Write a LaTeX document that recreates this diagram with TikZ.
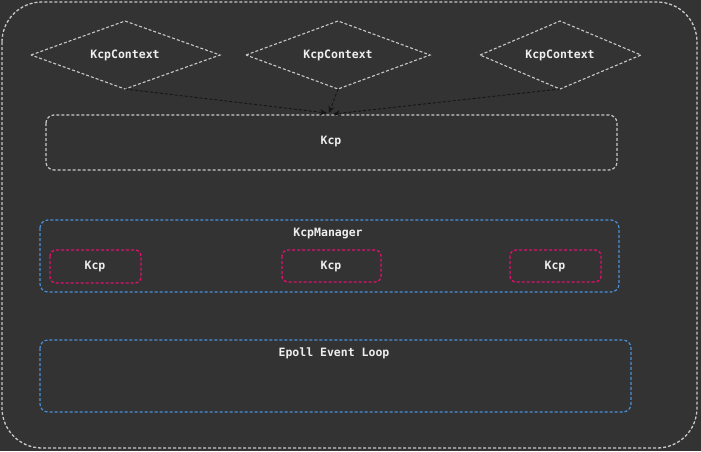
\documentclass[tikz,border=0pt]{standalone}
\usepackage{fontspec}
\setmonofont{DejaVu Sans Mono}
\usetikzlibrary{arrows.meta}
\definecolor{bg}{HTML}{333333}
\definecolor{gline}{HTML}{C8C8C8}
\definecolor{bline}{HTML}{4A90D9}
\definecolor{pline}{HTML}{E0106F}
\definecolor{txt}{HTML}{EEEEEE}
\definecolor{arr}{HTML}{151515}
\tikzset{
  lbl/.style={text=txt,font=\ttfamily\bfseries\fontsize{11.5}{13}\selectfont,inner sep=0pt},
  gbox/.style={draw=gline,line width=1.2pt,rounded corners=8pt,dash pattern=on 3pt off 2pt},
  bbox/.style={draw=bline,line width=1.2pt,rounded corners=8pt,dash pattern=on 3pt off 2pt},
  pbox/.style={draw=pline,line width=1.3pt,rounded corners=6pt,dash pattern=on 3pt off 2pt},
  dline/.style={draw=gline,line width=1.1pt,dash pattern=on 3pt off 2pt},
  conn/.style={draw=arr,line width=0.9pt,dash pattern=on 3pt off 2pt,-{Stealth[length=7pt,width=6pt]}},
}
\begin{document}
\begin{tikzpicture}[x=1pt,y=-1pt]
\useasboundingbox (0,0) rectangle (701,451);
\fill[bg] (0,0) rectangle (701,451);
\draw[draw=gline,line width=1.3pt,dash pattern=on 3pt off 2pt,rounded corners=40pt] (2,2) rectangle (697,448);
% diamonds
\path[dline] (31,55) -- (125,21) -- (220,55) -- (125,89) -- cycle;
\path[dline] (246,55) -- (338,21) -- (430,55) -- (338,89) -- cycle;
\path[dline] (480,55) -- (560,21) -- (641,55) -- (560,89) -- cycle;
\node[lbl] (c1) at (125,55) {KcpContext};
\node[lbl] (c2) at (338,55) {KcpContext};
\node[lbl] (c3) at (560,55) {KcpContext};
\coordinate (b1) at (125,89);
\coordinate (b2) at (338,89);
\coordinate (b3) at (560,89);
% Kcp box
\draw[gbox] (46,115) rectangle (617,170);
\node[lbl] (kcp) at (331,141) {Kcp};
\coordinate (t1) at (327,113);
\coordinate (t2) at (329,113);
\coordinate (t3) at (333,114);
\draw[conn] (b1) -- (t1);
\draw[conn] (b2) -- (t2);
\draw[conn] (b3) -- (t3);
% KcpManager
\draw[bbox] (40,220) rectangle (619,292);
\node[lbl] (mgr) at (328,233) {KcpManager};
\draw[pbox] (50,250) rectangle (141,283);
\node[lbl] (k1) at (95,266) {Kcp};
\draw[pbox] (282,250) rectangle (381,282);
\node[lbl] (k2) at (331,266) {Kcp};
\draw[pbox] (510,250) rectangle (601,282);
\node[lbl] (k3) at (555,266) {Kcp};
% Epoll
\draw[bbox] (40,340) rectangle (631,412);
\node[lbl] (ep) at (334,353) {Epoll Event Loop};
\end{tikzpicture}
\end{document}
